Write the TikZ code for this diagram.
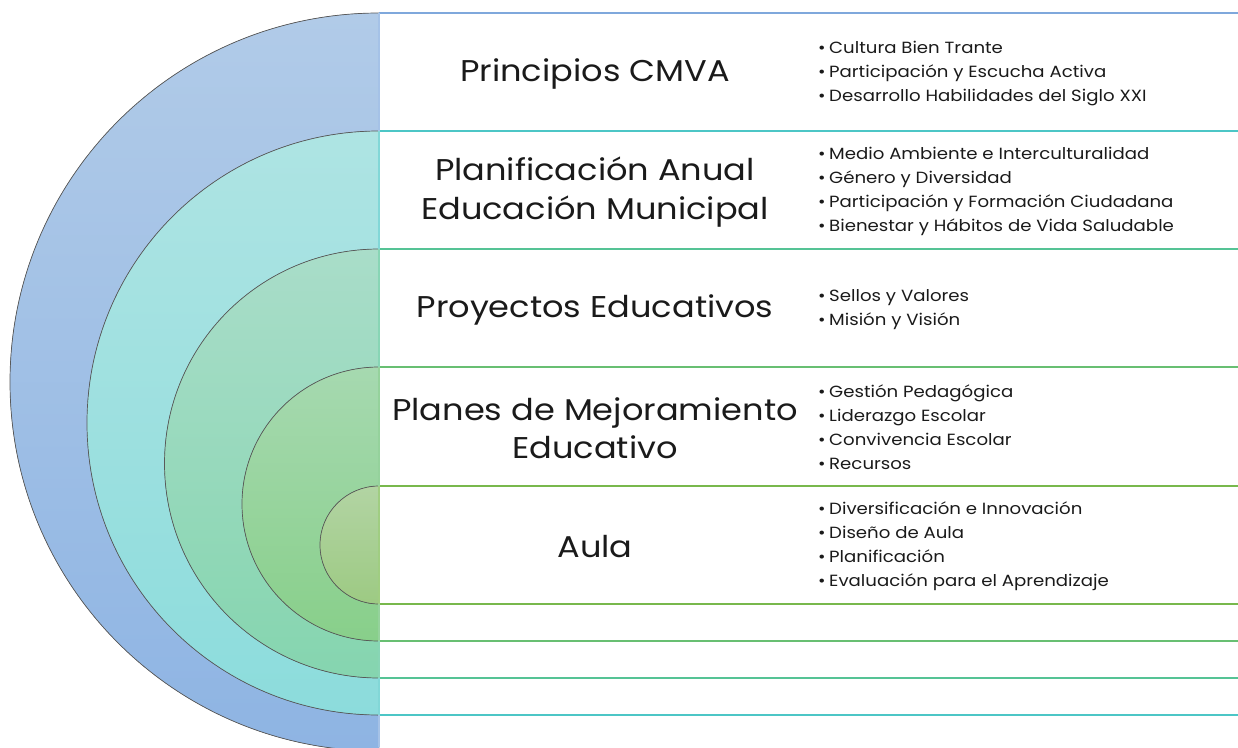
\documentclass[tikz,border=0pt]{standalone}
\usepackage{fontspec}
\setmainfont{Poppins}[FakeStretch=1.12]
\usepackage{xcolor}
\usetikzlibrary{positioning}
\definecolor{ringblue}{HTML}{7FA8DC}
\definecolor{ringteal}{HTML}{4CC6C6}
\definecolor{ringsea}{HTML}{55C395}
\definecolor{ringgreen}{HTML}{68BF72}
\definecolor{ringlime}{HTML}{78B84C}
\definecolor{textdark}{HTML}{1A1A1A}

\tikzset{
  ring/.style={draw=black!65, line width=0.7pt},
  rowline/.style={line width=1.2pt},
  heading/.style={font=\fontsize{30}{38.5}\selectfont, text=textdark, align=center, inner sep=0pt},
  items/.style={font=\fontsize{16.2}{24}\selectfont, text=textdark, align=left, anchor=west, inner sep=0pt},
}
\newcommand{\itm}{\makebox[11pt][l]{\textbullet}}

\begin{document}
\begin{tikzpicture}[x=1pt, y=-1pt]
    \useasboundingbox (0,0) rectangle (1238,747);
    \clip (0,0) rectangle (1238,747);

    % ── RINGS ─────────────────────────────────────────────────────────
    \fill[top color={rgb,255:red,177;green,203;blue,232}, bottom color={rgb,255:red,142;green,180;blue,227}]
        (379,13) arc[start angle=90, end angle=270, radius=369pt] -- cycle;
    \draw[ring] (379,13) arc[start angle=90, end angle=270, radius=369pt];

    \fill[top color={rgb,255:red,174;green,228;blue,227}, bottom color={rgb,255:red,140;green,220;blue,220}]
        (379,131) arc[start angle=90, end angle=270, radius=292pt] -- cycle;
    \draw[ring] (379,131) arc[start angle=90, end angle=270, radius=292pt];

    \fill[top color={rgb,255:red,169;green,221;blue,201}, bottom color={rgb,255:red,133;green,213;blue,175}]
        (379,249) arc[start angle=90, end angle=270, radius=214.5pt] -- cycle;
    \draw[ring] (379,249) arc[start angle=90, end angle=270, radius=214.5pt];

    \fill[top color={rgb,255:red,166;green,217;blue,176}, bottom color={rgb,255:red,136;green,207;blue,138}]
        (379,367) arc[start angle=90, end angle=270, radius=137pt] -- cycle;
    \draw[ring] (379,367) arc[start angle=90, end angle=270, radius=137pt];

    \fill[top color={rgb,255:red,178;green,212;blue,163}, bottom color={rgb,255:red,157;green,202;blue,131}]
        (379,486) arc[start angle=90, end angle=270, radius=59pt] -- cycle;
    \draw[ring] (379,486) arc[start angle=90, end angle=270, radius=59pt];

    % ── ROW LINES ─────────────────────────────────────────────────────
    \draw[rowline, ringblue] (379,13) -- (1238,13);
    \draw[rowline, ringteal] (379,131) -- (1238,131);
    \draw[rowline, ringsea] (379,249) -- (1238,249);
    \draw[rowline, ringgreen] (379,367) -- (1238,367);
    \draw[rowline, ringlime] (379,486) -- (1238,486);
    \draw[rowline, ringlime] (379,604) -- (1238,604);
    \draw[rowline, ringgreen] (379,641) -- (1238,641);
    \draw[rowline, ringsea] (379,678) -- (1238,678);
    \draw[rowline, ringteal] (379,715) -- (1238,715);

    % Left edge of the rows
    \draw[rowline, ringblue!70] (379,13) -- (379,131);
    \draw[rowline, ringteal!70] (379,131) -- (379,249);
    \draw[rowline, ringsea!70] (379,249) -- (379,367);
    \draw[rowline, ringgreen!70] (379,367) -- (379,486);
    \draw[rowline, ringlime!70] (379,486) -- (379,604);
    \draw[rowline, ringgreen!70] (379,604) -- (379,641);
    \draw[rowline, ringsea!70] (379,641) -- (379,678);
    \draw[rowline, ringteal!70] (379,678) -- (379,715);
    \draw[rowline, ringblue!70] (379,715) -- (379,747);

    % ── HEADINGS ──────────────────────────────────────────────────────
    \node[heading] (principios) at (595,74) {Principios CMVA};
    \node[heading] (planificacion) at (595,192) {Planificación Anual\\Educación Municipal};
    \node[heading] (proyectos) at (595,310) {Proyectos Educativos};
    \node[heading] (planes) at (595,428) {Planes de Mejoramiento\\Educativo};
    \node[heading] (aula) at (595,547) {Aula};

    % ── ITEM LISTS ────────────────────────────────────────────────────
    \node[items] (principiosList) at (818,73.5) {\itm Cultura Bien Trante\\\itm Participación y Escucha Activa\\\itm Desarrollo Habilidades del Siglo XXI};
    \node[items] (planificacionList) at (818,191.5) {\itm Medio Ambiente e Interculturalidad\\\itm Género y Diversidad\\\itm Participación y Formación Ciudadana\\\itm Bienestar y Hábitos de Vida Saludable};
    \node[items] (proyectosList) at (818,309.5) {\itm Sellos y Valores\\\itm Misión y Visión};
    \node[items] (planesList) at (818,427.5) {\itm Gestión Pedagógica\\\itm Liderazgo Escolar\\\itm Convivencia Escolar\\\itm Recursos};
    \node[items] (aulaList) at (818,546.5) {\itm Diversificación e Innovación\\\itm Diseño de Aula\\\itm Planificación\\\itm Evaluación para el Aprendizaje};
\end{tikzpicture}
\end{document}
